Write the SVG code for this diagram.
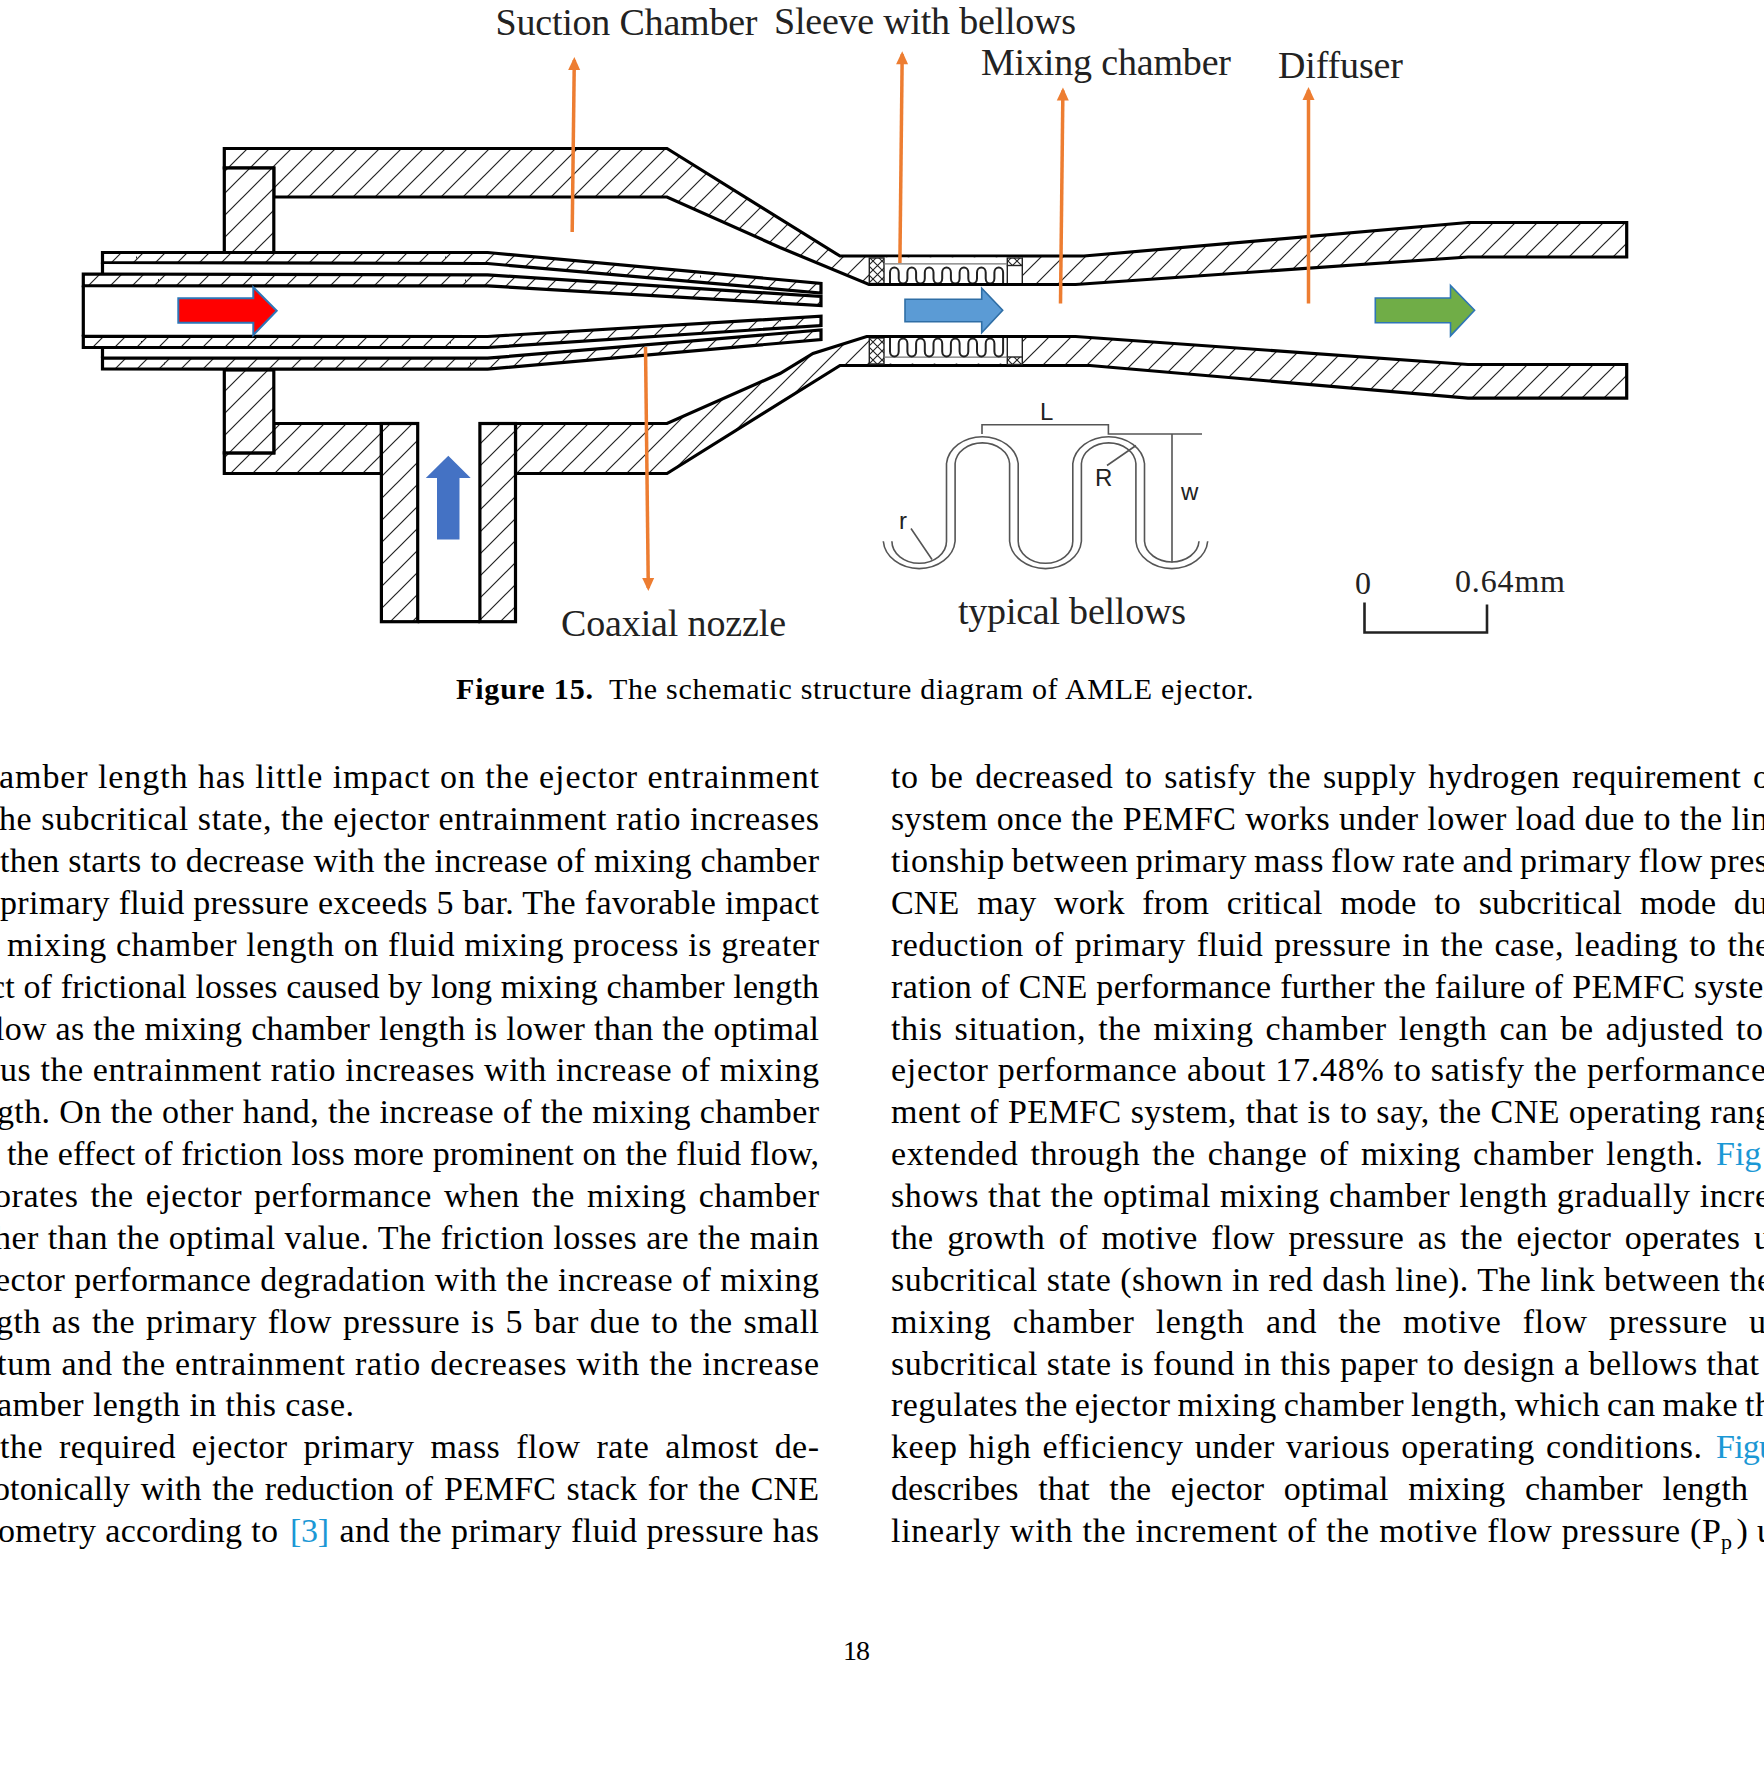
<svg xmlns="http://www.w3.org/2000/svg" width="1764" height="1786" viewBox="0 0 1764 1786">
<style>
.b{font-family:"Liberation Serif",serif;font-size:34px;fill:#000}
.l{fill:#1b98d5}
.c{font-family:"Liberation Serif",serif;font-size:30px;fill:#000}
.f{font-family:"Liberation Serif",serif;font-size:38px;fill:#222}
.s{font-family:"Liberation Sans",sans-serif;font-size:24px;fill:#222}
.h{fill:url(#hatch);stroke:#000;stroke-width:3.2;stroke-linejoin:miter}
.g{fill:none;stroke:#555;stroke-width:1.6}
.o{fill:none;stroke:#ED7D31;stroke-width:3.5;marker-end:url(#oa)}
</style>
<defs>
<pattern id="hatch" patternUnits="userSpaceOnUse" width="22" height="22"><rect width="22" height="22" fill="#fff"/><path d="M0,22L22,0M-3,3L3,-3M19,25L25,19" stroke="#222" stroke-width="1.2"/></pattern>
<pattern id="cross" patternUnits="userSpaceOnUse" width="9" height="9"><rect width="9" height="9" fill="#fff"/><path d="M0,9L9,0M0,0L9,9" stroke="#222" stroke-width="1.1"/></pattern>
<marker id="oa" markerUnits="userSpaceOnUse" markerWidth="16" markerHeight="14" refX="11" refY="7" orient="auto" viewBox="0 0 16 14"><path d="M1,1L14,7L1,13Z" fill="#ED7D31"/></marker>
</defs>
<rect width="1764" height="1786" fill="#fff"/>

<g id="ejector-body">
<path class="h" d="M224.3,148.5L667,148.5L840,256L1084,256L1468,222.5L1626.7,222.5L1626.7,257L1468,257L1075.6,284.5L869,284.5L780,247.5L667,197L273.8,197L273.8,168L224.3,168Z"/>
<rect class="h" x="224.3" y="168" width="49.5" height="85"/>
<path class="h" d="M224.3,473.5L381.4,473.5L381.4,423.5L273.8,423.5L273.8,452.9L224.3,452.9Z"/>
<rect class="h" x="224.3" y="370" width="49.5" height="82.9"/>
<path class="h" d="M515.5,423.5L667,423.5L780,373.5L813,353.5L866.7,336.5L1075.6,336.5L1468,364.5L1626.7,364.5L1626.7,398.2L1468,398.2L1090,365.5L840,365.5L667,473.5L515.5,473.5Z"/>
<rect class="h" x="381.4" y="423.5" width="36.3" height="198.2"/>
<rect class="h" x="479.9" y="423.5" width="35.6" height="198.2"/>
<path d="M417.7,621.7L479.9,621.7" stroke="#000" stroke-width="3.2"/>
</g>

<g id="coaxial-nozzle">
<path class="h" d="M102.5,252.5L487.6,252.5L821,283.5L821,293L487.6,263.5L102.5,262.5Z"/>
<path class="h" d="M83.3,274L487.6,274.9L821,296.5L821,305.5L487.6,285.9L83.3,285.7Z"/>
<path class="h" d="M83.3,336.3L487.6,336.5L821,316.2L821,325.5L487.6,347.5L83.3,347.5Z"/>
<path class="h" d="M102.5,358L487.6,358.2L821,330L821,339.5L487.6,369.2L102.5,369Z"/>
<path d="M83.3,285.5L83.3,336.5M102.5,262.5L102.5,274M102.5,347.5L102.5,358" fill="none" stroke="#000" stroke-width="3.2"/>
<path d="M136,257.5h1M158,280h1M141,342h1M164,363.5h1M445,257.5h1M465,280.5h1M450,342.5h1M470,363.5h1M610,272.5h1M700,276.5h1M780,301.5h1M780,320.5h1" stroke="#222" stroke-width="2" fill="none"/>
</g>

<g id="sleeve-with-bellows">
<rect x="884" y="257.5" width="138.3" height="26" fill="#fff"/>
<rect x="884" y="337.5" width="138.3" height="26" fill="#fff"/>
<rect x="869.3" y="258" width="14.7" height="25.5" fill="url(#cross)" stroke="#222" stroke-width="1.4"/>
<rect x="869.3" y="338" width="14.7" height="26" fill="url(#cross)" stroke="#222" stroke-width="1.4"/>
<rect x="1007.3" y="258" width="15" height="7.5" fill="url(#cross)" stroke="#222" stroke-width="1.4"/>
<rect x="1007.3" y="357" width="15" height="7.5" fill="url(#cross)" stroke="#222" stroke-width="1.4"/>
<path d="M1007.3,265.5V283.5M1022.3,265.5V283.5M1007.3,337.5V357M1022.3,337.5V357" stroke="#222" stroke-width="1.4" fill="none"/>
<path d="M884,263.8H1007.3M884,357.2H1007.3" stroke="#777" stroke-width="1.3" fill="none"/>
<path id="wave-top" fill="none" stroke="#222" stroke-width="2" d="M890,283.5V272.5a4.35,5 0 0 1 8.7,0V278.5a4.35,5 0 0 0 8.7,0V272.5a4.35,5 0 0 1 8.7,0V278.5a4.35,5 0 0 0 8.7,0V272.5a4.35,5 0 0 1 8.7,0V278.5a4.35,5 0 0 0 8.7,0V272.5a4.35,5 0 0 1 8.7,0V278.5a4.35,5 0 0 0 8.7,0V272.5a4.35,5 0 0 1 8.7,0V278.5a4.35,5 0 0 0 8.7,0V272.5a4.35,5 0 0 1 8.7,0V278.5a4.35,5 0 0 0 8.7,0V272.5a4.35,5 0 0 1 8.7,0V283.5"/>
<path id="wave-bottom" fill="none" stroke="#222" stroke-width="2" d="M890,337.5V351.5a4.35,5 0 0 0 8.7,0V343.5a4.35,5 0 0 1 8.7,0V351.5a4.35,5 0 0 0 8.7,0V343.5a4.35,5 0 0 1 8.7,0V351.5a4.35,5 0 0 0 8.7,0V343.5a4.35,5 0 0 1 8.7,0V351.5a4.35,5 0 0 0 8.7,0V343.5a4.35,5 0 0 1 8.7,0V351.5a4.35,5 0 0 0 8.7,0V343.5a4.35,5 0 0 1 8.7,0V351.5a4.35,5 0 0 0 8.7,0V343.5a4.35,5 0 0 1 8.7,0V351.5a4.35,5 0 0 0 8.7,0V337.5"/>
<path d="M869,284.5H1075.6M869,336.5H1075.6" stroke="#000" stroke-width="3.2" fill="none"/>
</g>

<g id="flow-arrows">
<path id="flow-primary" d="M178.3,298.3H253.3V287.3L276.7,310.7L253.3,335V322.7H178.3Z" fill="#f00" stroke="#2E75B6" stroke-width="2"/>
<path id="flow-mixing" d="M905,299.3H981.7V288.3L1002.7,310.3L981.7,332.7V321.7H905Z" fill="#5B9BD5" stroke="#2F6EA5" stroke-width="1.6"/>
<path id="flow-outlet" d="M1375.3,298H1450.5V285.4L1474.6,310.2L1450.5,335.9V322.8H1375.3Z" fill="#70AD47" stroke="#2E75B6" stroke-width="1.6"/>
<path id="flow-secondary" d="M448.3,455.8L470.7,478H459.5V539.6H437V478H425.8Z" fill="#4472C4"/>
</g>

<g id="connectors">
<path class="o" d="M572.2,232L574.3,60"/>
<path class="o" d="M645.5,347L648.3,588"/>
<path class="o" d="M899.9,263L902.2,54.3"/>
<path class="o" d="M1060.5,303.5L1062.9,90.5"/>
<path class="o" d="M1308.5,303.5V90"/>
</g>

<g id="typical-bellows">
<path class="g" d="M883.3,541.3A36,29.5 0 0 0 955.1,541.3V463.5A27.3,22 0 0 1 1009.6,463.5V541.3A36,29.5 0 0 0 1081.4,541.3V463.5A27.3,22 0 0 1 1135.9,463.5V541.3A36,29.5 0 0 0 1207.7,541.3"/>
<path class="g" d="M891.9,541.3A27.3,22 0 0 0 946.5,541.3V463.5A36,29.5 0 0 1 1018.2,463.5V541.3A27.3,22 0 0 0 1072.8,541.3V463.5A36,29.5 0 0 1 1144.5,463.5V541.3A27.3,22 0 0 0 1199,541.3"/>
<path class="g" d="M982,434V424.7H1108.4V434H1202M1172,434V562.5M1107,465.5L1136,445.5M911,528.5L932,559.5"/>
<text class="s" x="1040" y="420">L</text>
<text class="s" x="1095" y="486">R</text>
<text class="s" x="1181" y="500">w</text>
<text class="s" x="899" y="529">r</text>
</g>

<g id="labels">
<text class="f" x="495.5" y="35" textLength="262">Suction Chamber</text>
<text class="f" x="774" y="34" textLength="302">Sleeve with bellows</text>
<text class="f" x="981" y="75" textLength="250">Mixing chamber</text>
<text class="f" x="1278" y="78" textLength="125">Diffuser</text>
<text class="f" x="561" y="636" textLength="225">Coaxial nozzle</text>
<text class="f" x="958" y="624" textLength="228">typical bellows</text>
<text class="f" x="1355" y="593.5" style="font-size:32px">0</text>
<text class="f" x="1455" y="591.5" style="font-size:32px" textLength="110">0.64mm</text>
<path id="scale-bar" d="M1364.5,602.5V632.5H1487V604.5" fill="none" stroke="#222" stroke-width="2.6"/>
</g>

<g id="caption">
<text class="c" x="456" y="699" textLength="137" font-weight="bold">Figure 15.</text>
<text class="c" x="609" y="699" textLength="644.5">The schematic structure diagram of AMLE ejector.</text>
</g>

<g id="left-column">
<text class="b" x="-1" y="788.2" textLength="820">amber length has little impact on the ejector entrainment</text>
<text class="b" x="-1" y="830.1" textLength="820">he subcritical state, the ejector entrainment ratio increases</text>
<text class="b" x="0" y="872" textLength="819">then starts to decrease with the increase of mixing chamber</text>
<text class="b" x="0" y="913.8" textLength="819">primary fluid pressure exceeds 5 bar. The favorable impact</text>
<text class="b" x="7" y="955.7" textLength="812">mixing chamber length on fluid mixing process is greater</text>
<text class="b" x="-10" y="997.6" textLength="829">ct of frictional losses caused by long mixing chamber length</text>
<text class="b" x="-5" y="1039.5" textLength="824">low as the mixing chamber length is lower than the optimal</text>
<text class="b" x="0" y="1081.4" textLength="819">us the entrainment ratio increases with increase of mixing</text>
<text class="b" x="-3" y="1123.2" textLength="822">gth. On the other hand, the increase of the mixing chamber</text>
<text class="b" x="7" y="1165.1" textLength="812">the effect of friction loss more prominent on the fluid flow,</text>
<text class="b" x="-6" y="1207" textLength="825" style="word-spacing:3px">orates the ejector performance when the mixing chamber</text>
<text class="b" x="-6" y="1248.9" textLength="825">her than the optimal value. The friction losses are the main</text>
<text class="b" x="-5" y="1290.7" textLength="824">ector performance degradation with the increase of mixing</text>
<text class="b" x="-4" y="1332.6" textLength="823" style="word-spacing:2px">gth as the primary flow pressure is 5 bar due to the small</text>
<text class="b" x="-3" y="1374.5" textLength="822">tum and the entrainment ratio decreases with the increase</text>
<text class="b" x="-3" y="1416.4" textLength="357">amber length in this case.</text>
<text class="b" x="0" y="1458.3" textLength="819" style="word-spacing:7px">the required ejector primary mass flow rate almost de-</text>
<text class="b" x="-7" y="1500.1" textLength="826" style="word-spacing:2px">otonically with the reduction of PEMFC stack for the CNE</text>
<text class="b" x="-2" y="1542" textLength="280">ometry according to</text>
<text class="b l" x="290" y="1542" textLength="39">[3]</text>
<text class="b" x="339.5" y="1542" textLength="479.5">and the primary fluid pressure has</text>
</g>

<g id="right-column">
<text class="b" x="891" y="788.2" textLength="879" style="word-spacing:3px">to be decreased to satisfy the supply hydrogen requirement o</text>
<text class="b" x="891" y="830.1" textLength="877">system once the PEMFC works under lower load due to the lin</text>
<text class="b" x="891" y="872" textLength="877" style="word-spacing:-2px">tionship between primary mass flow rate and primary flow pres</text>
<text class="b" x="891" y="913.8" textLength="877" style="word-spacing:9px">CNE may work from critical mode to subcritical mode du</text>
<text class="b" x="891" y="955.7" textLength="879" style="word-spacing:2px">reduction of primary fluid pressure in the case, leading to the</text>
<text class="b" x="891" y="997.6" textLength="899">ration of CNE performance further the failure of PEMFC system</text>
<text class="b" x="891" y="1039.5" textLength="872" style="word-spacing:3px">this situation, the mixing chamber length can be adjusted to</text>
<text class="b" x="891" y="1081.4" textLength="875">ejector performance about 17.48% to satisfy the performance</text>
<text class="b" x="891" y="1123.2" textLength="881">ment of PEMFC system, that is to say, the CNE operating rang</text>
<text class="b" x="891" y="1165.1" textLength="812" style="word-spacing:3px">extended through the change of mixing chamber length.</text>
<text class="b l" x="1716" y="1165.1">Fig</text>
<text class="b" x="891" y="1207" textLength="879">shows that the optimal mixing chamber length gradually incre</text>
<text class="b" x="891" y="1248.9" textLength="880" style="word-spacing:5px">the growth of motive flow pressure as the ejector operates u</text>
<text class="b" x="891" y="1290.7" textLength="881">subcritical state (shown in red dash line). The link between the</text>
<text class="b" x="891" y="1332.6" textLength="875" style="word-spacing:12px">mixing chamber length and the motive flow pressure u</text>
<text class="b" x="891" y="1374.5" textLength="868">subcritical state is found in this paper to design a bellows that</text>
<text class="b" x="891" y="1416.4" textLength="881" style="word-spacing:-2px">regulates the ejector mixing chamber length, which can make th</text>
<text class="b" x="891" y="1458.3" textLength="811" style="word-spacing:2px">keep high efficiency under various operating conditions.</text>
<text class="b l" x="1716" y="1458.3" textLength="60">Figu</text>
<text class="b" x="891" y="1500.1" textLength="857" style="word-spacing:11px">describes that the ejector optimal mixing chamber length</text>
<text class="b" x="891" y="1542" textLength="830">linearly with the increment of the motive flow pressure (P</text>
<text class="b" x="1721" y="1549" style="font-size:22px">p</text>
<text class="b" x="1736.5" y="1542">)</text>
<text class="b" x="1757" y="1542">u</text>
</g>

<text id="page-number" class="c" x="843" y="1660" style="font-size:28px" textLength="27">18</text>
</svg>
